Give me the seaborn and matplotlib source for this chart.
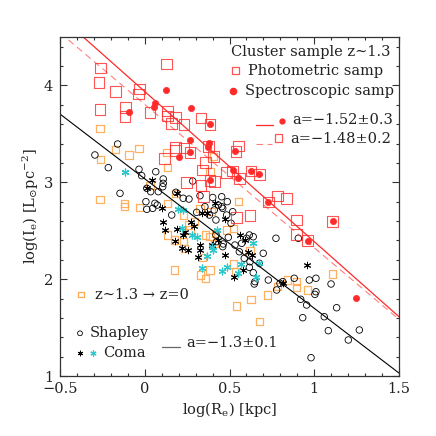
import numpy as np
import pandas as pd
import seaborn as sns
import matplotlib.pyplot as plt
from matplotlib.ticker import FixedLocator, MultipleLocator

# photometric sample (z~1.3), open red squares
phot_x = [-0.26, 0.13, -0.27, -0.171, -0.032, -0.036, -0.264, -0.115, -0.117, 0.031,
          0.133, 0.133, 0.183, 0.159, 0.232, 0.332, 0.385, 0.183, 0.183, 0.232,
          0.267, 0.375, 0.115, 0.404, 0.36, 0.342, 0.247, 0.332, 0.41, 0.385,
          0.483, 0.552, 0.538, 0.519, 0.558, 0.627, 0.676, 0.784, 0.837, 0.729,
          0.542, 0.621, 0.896, 1.109, 0.896, 0.961, 0.345]
phot_y = [4.18, 4.22, 4.03, 3.935, 3.963, 3.911, 3.753, 3.774, 3.677, 3.723,
          3.736, 3.684, 3.671, 3.605, 3.594, 3.664, 3.599, 3.357, 3.326, 3.354,
          3.31, 3.367, 3.248, 3.264, 3.202, 3.127, 3.0, 2.965, 3.006, 3.02,
          3.103, 3.375, 3.316, 3.116, 3.041, 3.116, 3.082, 2.858, 2.83, 2.796,
          2.634, 2.655, 2.611, 2.597, 2.463, 2.397, 2.851]

# spectroscopic sample, filled red dots
spec_x = [0.125, 0.06, 0.055, -0.095, 0.271, 0.385, 0.267, 0.381, 0.371, 0.204,
          0.267, 0.532, 0.522, 0.548, 0.385, 0.627, 0.676, 0.729, 1.109, 0.961, 1.246]
spec_y = [3.953, 3.822, 3.78, 3.723, 3.764, 3.599, 3.437, 3.402, 3.367, 3.261,
          3.31, 3.323, 3.127, 3.041, 3.02, 3.116, 3.082, 2.796, 2.597, 2.397, 1.805]

# z~1.3 evolved to z=0, orange squares
evo_x = [-0.264, -0.17, -0.034, -0.26, -0.093, 0.13, 0.133, -0.264, 0.031, 0.183,
         0.385, 0.404, -0.117, -0.117, -0.032, 0.133, 0.227, 0.257, 0.326, 0.267,
         0.133, 0.178, 0.227, 0.232, 0.361, 0.385, 0.342, 0.178, 0.33, 0.36,
         0.385, 0.391, 0.416, 0.483, 0.522, 0.552, 0.409, 0.522, 0.538, 0.621,
         0.542, 0.627, 0.725, 0.676, 0.784, 0.841, 0.896, 0.896, 0.961, 1.109, 0.296]
evo_y = [3.553, 3.34, 3.351, 3.237, 3.282, 3.305, 3.151, 2.827, 2.965, 2.886,
         3.116, 3.264, 2.783, 2.748, 2.738, 2.783, 2.662, 2.559, 2.731, 2.507,
         2.456, 2.404, 2.387, 2.318, 2.456, 2.438, 2.221, 2.094, 2.043, 2.009,
         2.094, 2.696, 2.473, 2.507, 2.525, 2.8, 2.37, 2.156, 2.077, 2.294,
         1.723, 1.792, 1.836, 1.561, 1.922, 1.991, 1.974, 1.916, 1.888, 2.053, 2.593]

# Shapley, open black circles
shap_x = [-0.294, -0.16, -0.215, -0.034, -0.018, 0.065, 0.109, 0.109, 0.106, -0.146,
          0.08, 0.012, 0.283, 0.261, 0.035, 0.184, 0.227, 0.074, 0.047, 0.159,
          0.306, 0.355, 0.381, 0.42, 0.434, 0.42, 0.007, 0.012, 0.06, 0.41,
          0.454, 0.519, 0.46, 0.493, 0.326, 0.401, 0.454, 0.487, 0.46, 0.483,
          0.509, 0.424, 0.463, 0.532, 0.558, 0.572, 0.601, 0.617, 0.64, 0.587,
          0.621, 0.617, 0.64, 0.65, 0.729, 0.774, 0.798, 0.906, 0.699, 0.676,
          0.778, 0.814, 0.882, 0.971, 1.01, 1.01, 1.004, 1.099, 0.92, 0.955,
          1.132, 0.932, 1.059, 1.083, 1.266, 1.201, 0.981, 0.646]
shap_y = [3.282, 3.395, 3.151, 3.134, 3.068, 3.109, 3.034, 2.989, 2.954, 2.886,
          2.903, 2.938, 3.013, 2.827, 2.903, 2.897, 2.835, 2.765, 2.731, 2.662,
          2.69, 2.748, 2.662, 2.611, 2.765, 2.456, 2.8, 2.721, 2.783, 2.714,
          2.748, 2.696, 2.335, 2.432, 2.861, 2.843, 2.851, 2.8, 2.731, 2.662,
          2.577, 2.387, 2.363, 2.352, 2.283, 2.37, 2.422, 2.456, 2.438, 2.215,
          2.18, 2.122, 2.067, 1.974, 1.991, 2.422, 1.957, 2.422, 2.267, 2.164,
          1.888, 1.974, 2.009, 1.991, 2.009, 1.87, 1.843, 1.95, 1.792, 1.733,
          1.705, 1.602, 1.612, 1.468, 1.475, 1.372, 1.189, 1.95]

# Coma, black and cyan asterisks
comab_x = [-0.117, 0.041, 0.012, 0.1, 0.192, 0.106, 0.119, 0.227, 0.271, 0.291,
           0.336, 0.369, 0.326, 0.326, 0.316, 0.218, 0.257, 0.395, 0.188, 0.237,
           0.434, 0.473, 0.528, 0.414, 0.473, 0.562, 0.591, 0.611, 0.631, 0.581,
           0.955, 0.817, 0.178]
comab_y = [3.109, 3.024, 2.944, 2.731, 2.886, 2.593, 2.507, 2.456, 2.587, 2.549,
           2.68, 2.68, 2.352, 2.301, 2.232, 2.318, 2.301, 2.352, 2.518, 2.49,
           2.404, 2.249, 2.025, 2.783, 2.618, 2.456, 2.404, 2.283, 2.249, 2.094,
           2.146, 1.957, 2.394]
comac_x = [-0.117, 0.198, 0.227, 0.218, 0.277, 0.31, 0.424, 0.395, 0.369, 0.336,
           0.454, 0.483, 0.552, 0.637, 0.401, 0.566, 0.676, 0.656]
comac_y = [3.109, 2.721, 2.714, 2.525, 2.456, 2.438, 2.507, 2.335, 2.242, 2.112,
           2.087, 2.128, 2.06, 2.37, 2.301, 2.156, 2.164, 2.019]

# fitted relations: slope, intercept
fit_spec = (-1.55, 3.937)
fit_phot = (-1.48, 3.804)
fit_local = (-1.337, 3.036)
fit_range = [-0.5, 1.5]

xticks = [-0.5, 0, 0.5, 1, 1.5]
xtick_labels = ['\u22120.5', '0', '0.5', '1', '1.5']
yticks = [1, 2, 3, 4]
ytick_labels = ['1', '2', '3', '4']

RED = '#ff2a2a'
ORANGE = '#ffa850'
CYAN = '#2cc8cc'
TXT = '#222222'

sns.set_style('ticks')
plt.rcParams['font.family'] = ['DejaVu Serif', 'DejaVu Sans']
plt.rcParams['mathtext.fontset'] = 'dejavuserif'
plt.rcParams['text.color'] = TXT

fig = plt.figure(figsize=(4.36, 4.36), dpi=100)
ax = fig.add_axes([60/436, 60/436, 339/436, 339/436])

fx = np.array(fit_range)
sns.lineplot(x=fx, y=fit_spec[0]*fx + fit_spec[1], color=RED, lw=0.9, ax=ax)
sns.lineplot(x=fx, y=fit_phot[0]*fx + fit_phot[1], color=RED, lw=0.8, alpha=0.6,
             linestyle=(0, (6, 4)), ax=ax)
sns.lineplot(x=fx, y=fit_local[0]*fx + fit_local[1], color='k', lw=0.8, ax=ax)

sns.scatterplot(x=evo_x, y=evo_y, marker='s', s=26, facecolor='none',
                edgecolor=ORANGE, linewidth=0.9, alpha=0.9, ax=ax)
sns.scatterplot(x=shap_x, y=shap_y, marker='o', s=22, facecolor='none',
                edgecolor='k', linewidth=0.6, ax=ax)
sns.scatterplot(x=comab_x, y=comab_y, marker=(6, 2, 0), s=22, color='k',
                linewidth=0.7, ax=ax)
sns.scatterplot(x=comac_x, y=comac_y, marker=(6, 2, 0), s=24, color=CYAN,
                linewidth=0.9, ax=ax)
sns.scatterplot(x=phot_x, y=phot_y, marker='s', s=60, facecolor='none',
                edgecolor=RED, linewidth=0.8, alpha=0.8, ax=ax)
sns.scatterplot(x=spec_x, y=spec_y, marker='o', s=20, color=RED,
                edgecolor=RED, linewidth=0.5, ax=ax)

ax.set_xlim(-0.5, 1.5)
ax.set_ylim(1, 4.5)
ax.xaxis.set_major_locator(FixedLocator(xticks))
ax.set_xticklabels(xtick_labels)
ax.xaxis.set_minor_locator(MultipleLocator(0.1))
ax.yaxis.set_major_locator(FixedLocator(yticks))
ax.set_yticklabels(ytick_labels)
ax.yaxis.set_minor_locator(MultipleLocator(0.2))
ax.tick_params(which='both', direction='in', top=True, right=True,
               labelsize=10.5, color='#333333', width=0.8, labelcolor=TXT)
ax.tick_params(which='major', length=5, pad=5)
ax.tick_params(which='minor', length=2.5)
ax.tick_params(axis='x', pad=4)
for s in ax.spines.values():
    s.set_linewidth(0.9)
    s.set_color('#333333')

ax.set_xlabel(r'log(R$_{\rm e}$) [kpc]', fontsize=10.5, labelpad=3, color=TXT)
ax.set_ylabel(r'log(I$_{\rm e}$) [L$_{\odot}$pc$^{-2}$]', fontsize=10.5, labelpad=2, color=TXT)

# upper-right key
tr = ax.transAxes
fs = 10.5
ax.text(0.975, 0.956, 'Cluster sample z\u223c1.3', transform=tr, ha='right', va='center', fontsize=fs)
ax.scatter([0.519], [0.9], transform=tr, marker='s', s=26, facecolor='none',
           edgecolor=RED, linewidth=0.9, alpha=0.8, clip_on=False)
ax.text(0.555, 0.9, 'Photometric samp', transform=tr, ha='left', va='center', fontsize=fs)
ax.scatter([0.511], [0.841], transform=tr, marker='o', s=20, color=RED, clip_on=False)
ax.text(0.546, 0.841, 'Spectroscopic samp', transform=tr, ha='left', va='center', fontsize=fs)
ax.plot([0.578, 0.627], [0.74, 0.74], transform=tr, color=RED, lw=0.9)
ax.scatter([0.656], [0.753], transform=tr, marker='o', s=12, color=RED)
ax.text(0.686, 0.755, 'a=\u22121.52\u00b10.3', transform=tr, ha='left', va='center', fontsize=fs)
ax.plot([0.578, 0.626], [0.685, 0.685], transform=tr, color=RED, lw=0.8, alpha=0.6,
        linestyle=(0, (6, 4)))
ax.scatter([0.644], [0.702], transform=tr, marker='s', s=26, facecolor='none',
           edgecolor=RED, linewidth=0.9, alpha=0.8)
ax.text(0.68, 0.699, 'a=\u22121.48\u00b10.2', transform=tr, ha='left', va='center', fontsize=fs)

# lower-left key
ax.scatter([0.062], [0.24], transform=tr, marker='s', s=16, facecolor='none',
           edgecolor=ORANGE, linewidth=0.9)
ax.text(0.103, 0.24, 'z\u223c1.3 \u2192 z=0', transform=tr, ha='left', va='center', fontsize=fs)
ax.scatter([0.059], [0.126], transform=tr, marker='o', s=12, facecolor='none',
           edgecolor='k', linewidth=0.6)
ax.text(0.089, 0.126, 'Shapley', transform=tr, ha='left', va='center', fontsize=fs)
ax.scatter([0.059], [0.067], transform=tr, marker=(6, 2, 0), s=12, color='k', linewidth=0.7)
ax.scatter([0.098], [0.067], transform=tr, marker=(6, 2, 0), s=14, color=CYAN, linewidth=0.9)
ax.text(0.127, 0.067, 'Coma', transform=tr, ha='left', va='center', fontsize=fs)
ax.plot([0.301, 0.354], [0.086, 0.086], transform=tr, color='#666666', lw=0.9)
ax.text(0.372, 0.096, 'a=\u22121.3\u00b10.1', transform=tr, ha='left', va='center', fontsize=fs)

fig.savefig('out.png', dpi=100)
